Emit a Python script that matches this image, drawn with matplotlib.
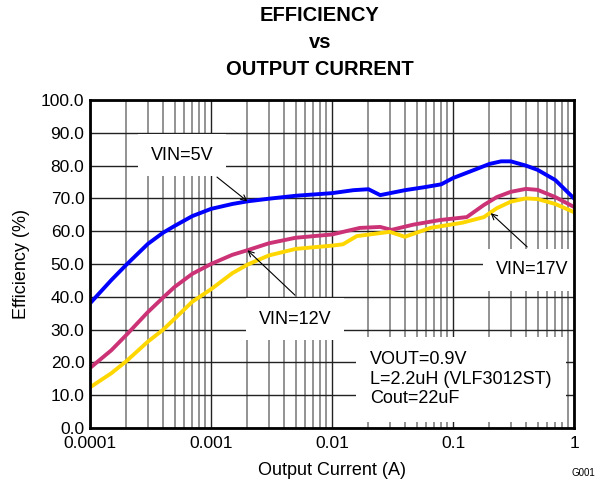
import matplotlib.pyplot as plt
import numpy as np
from matplotlib.ticker import FixedLocator, LogLocator, NullFormatter

plt.rcParams['font.family'] = ['Liberation Sans', 'DejaVu Sans']

# output current (A) and efficiency (%)
i_5v = [0.0001, 0.00015, 0.0002, 0.0003, 0.0004, 0.0005, 0.0007, 0.001, 0.0015, 0.002,
        0.003, 0.005, 0.01, 0.015, 0.02, 0.025, 0.04, 0.06, 0.08, 0.1, 0.15, 0.2,
        0.25, 0.3, 0.4, 0.5, 0.7, 1.0]
eff_5v = [38, 45.1, 49.8, 56.1, 59.5, 61.6, 64.6, 66.8, 68.3, 69.1,
          69.9, 70.8, 71.6, 72.5, 72.8, 71.0, 72.5, 73.5, 74.3, 76.2, 78.7, 80.5,
          81.3, 81.3, 80.0, 78.7, 75.6, 70.0]

i_12v = [0.0001, 0.00015, 0.0002, 0.0003, 0.0004, 0.0005, 0.0007, 0.001, 0.0015, 0.002,
         0.003, 0.005, 0.01, 0.017, 0.025, 0.031, 0.047, 0.078, 0.13, 0.18,
         0.23, 0.3, 0.4, 0.5, 0.7, 1.0]
eff_12v = [18.3, 23.7, 28.4, 35.3, 39.7, 43, 47, 50, 52.8, 54.2,
           56.3, 58, 59, 61, 61.3, 60.4, 62, 63.4, 64.3, 68,
           70.4, 72, 72.9, 72.6, 70.4, 67.4]

i_17v = [0.0001, 0.00015, 0.0002, 0.0003, 0.0004, 0.0005, 0.0007, 0.001, 0.0015, 0.002,
         0.003, 0.005, 0.01, 0.0123, 0.016, 0.03, 0.04, 0.065, 0.12, 0.18,
         0.23, 0.3, 0.4, 0.5, 0.7, 1.0]
eff_17v = [12.4, 16.7, 20.4, 26.3, 29.9, 33.3, 38.5, 42.3, 47.2, 49.8,
           52.6, 54.6, 55.6, 56, 58.5, 59.8, 58.3, 61, 62.6, 64.3,
           67, 69, 70, 69.8, 68.3, 65.8]

fig = plt.figure(figsize=(5.97, 4.84), dpi=100)
ax = fig.add_axes([0.1508, 0.1157, 0.8107, 0.6777])

ax.plot(i_5v, eff_5v, color='#0000FF', lw=2.8, zorder=4)
ax.plot(i_12v, eff_12v, color='#CC3377', lw=2.8, zorder=4)
ax.plot(i_17v, eff_17v, color='#FFD700', lw=2.8, zorder=4)

ax.set_xscale('log')
ax.set_xlim(0.0001, 1)
ax.set_ylim(0, 100)
ax.xaxis.set_major_locator(FixedLocator([0.0001, 0.001, 0.01, 0.1, 1]))
ax.set_xticklabels(['0.0001', '0.001', '0.01', '0.1', '1'])
ax.xaxis.set_minor_locator(LogLocator(base=10, subs=np.arange(2, 10)))
ax.xaxis.set_minor_formatter(NullFormatter())
ax.set_yticks(np.arange(0, 101, 10))
ax.set_yticklabels(['%.1f' % v for v in np.arange(0, 101, 10)])

ax.grid(which='major', color='#222222', lw=1.0, zorder=0)
ax.grid(which='minor', axis='x', color='#8a8a8a', lw=1.3, zorder=0)
ax.tick_params(which='both', length=0, labelsize=12.5)
ax.tick_params(axis='x', pad=6)
ax.tick_params(axis='y', pad=4)
for s in ax.spines.values():
    s.set_linewidth(2)
    s.set_zorder(6)

ax.set_xlabel('Output Current (A)', fontsize=13, labelpad=8)
ax.set_ylabel('Efficiency (%)', fontsize=13, labelpad=8)

fig.text(0.536, 0.969, 'EFFICIENCY', ha='center', va='center', fontsize=14.5, fontweight='bold')
fig.text(0.536, 0.912, 'vs', ha='center', va='center', fontsize=14.5, fontweight='bold')
fig.text(0.536, 0.856, 'OUTPUT CURRENT', ha='center', va='center', fontsize=14.5, fontweight='bold')
fig.text(0.977, 0.012, 'G001', ha='center', va='bottom', fontsize=7)

box = dict(boxstyle='square,pad=0.7', fc='white', ec='none')
arrow = dict(arrowstyle='->', color='black', lw=0.8, shrinkA=0, shrinkB=0)

ax.text(0.000575, 83.2, 'VIN=5V', ha='center', va='center', fontsize=13, bbox=box, zorder=5)
ax.annotate('', xy=(0.002, 69.1), xytext=(0.00112, 76.5), arrowprops=arrow, zorder=5)

ax.text(0.00494, 33.2, 'VIN=12V', ha='center', va='center', fontsize=13, bbox=box, zorder=5)
ax.annotate('', xy=(0.002, 54.2), xytext=(0.00494, 40.5), arrowprops=arrow, zorder=5)

ax.text(0.45, 48.2, 'VIN=17V', ha='center', va='center', fontsize=13, bbox=box, zorder=5)
ax.annotate('', xy=(0.205, 65.5), xytext=(0.41, 55.2), arrowprops=arrow, zorder=5)

ax.text(0.0206, 14.9, 'VOUT=0.9V\nL=2.2uH (VLF3012ST)\nCout=22uF', ha='left', va='center',
        fontsize=13, linespacing=1.2,
        bbox=dict(boxstyle='square,pad=0.8', fc='white', ec='none'), zorder=5)

fig.savefig('out.png', dpi=100)
